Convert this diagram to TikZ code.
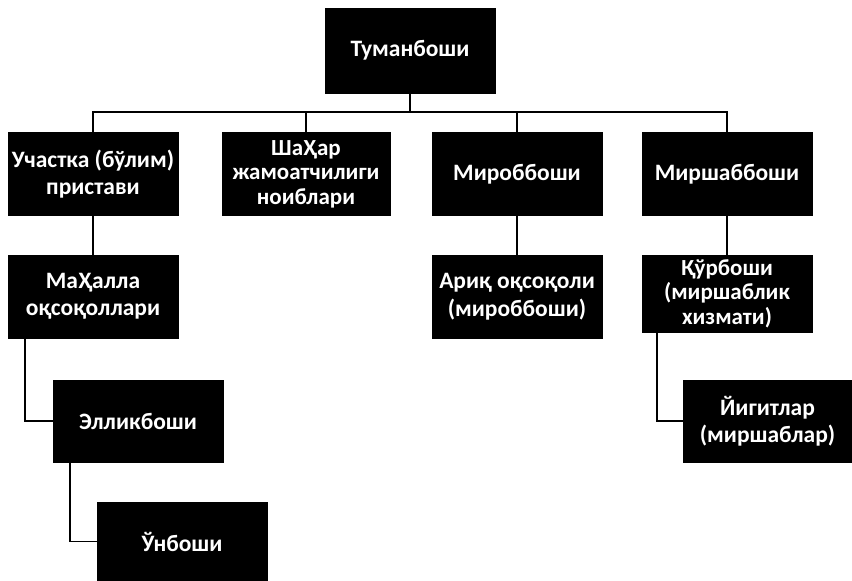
\documentclass[tikz,border=0pt]{standalone}
\usepackage{fontspec}
\setmainfont{Carlito}
\begin{document}
\begin{tikzpicture}[x=1pt,y=-1pt,
  box/.style={fill=black,draw=black,text=white,font=\bfseries\fontsize{23.5}{27.5}\selectfont,
    align=center,inner sep=0pt,minimum width=170pt,minimum height=83pt},
  tight/.style={font=\bfseries\fontsize{23}{24.5}\selectfont},
  link/.style={line width=1.8pt,black}]
\useasboundingbox (0,0) rectangle (852,581);
\node[box,minimum height=85pt] (tum) at (410,50.5) {Туманбоши};
\node[box] (uch) at (93,174) {Участка (бўлим)\\пристави};
\node[box,tight,minimum width=168pt] (sha) at (306,174) {ШаҲар\\жамоатчилиги\\ноиблари};
\node[box] (mir) at (517,174) {Мироббоши};
\node[box] (mish) at (727,174) {Миршаббоши};
\node[box] (mah) at (93,296.5) {МаҲалла\\оқсоқоллари};
\node[box] (ariq) at (517,296.5) {Ариқ оқсоқоли\\(мироббоши)};
\node[box,tight,minimum height=77pt] (qur) at (727,293.5) {Қўрбоши\\(миршаблик\\хизмати)};
\node[box,minimum height=82pt] (ell) at (138,421) {Элликбоши};
\node[box,minimum width=169pt,minimum height=82pt] (yig) at (767.5,421) {Йигитлар\\(миршаблар)};
\node[box,minimum height=79pt] (unb) at (182,541.5) {Ўнбоши};
\draw[link] (tum.south) -- ++(0,20);
\draw[link] (uch.north) -- ++(0,-20) -| (mish.north);
\draw[link] (sha.north) -- ++(0,-20);
\draw[link] (mir.north) -- ++(0,-20);
\draw[link] (uch.south) -- (mah.north);
\draw[link] (mir.south) -- (ariq.north);
\draw[link] (mish.south) -- (qur.north);
\draw[link] ([xshift=-68pt]mah.south) |- (ell.west);
\draw[link] ([xshift=-70pt]qur.south) |- (yig.west);
\draw[link] ([xshift=-68pt]ell.south) |- (unb.west);
\end{tikzpicture}
\end{document}
